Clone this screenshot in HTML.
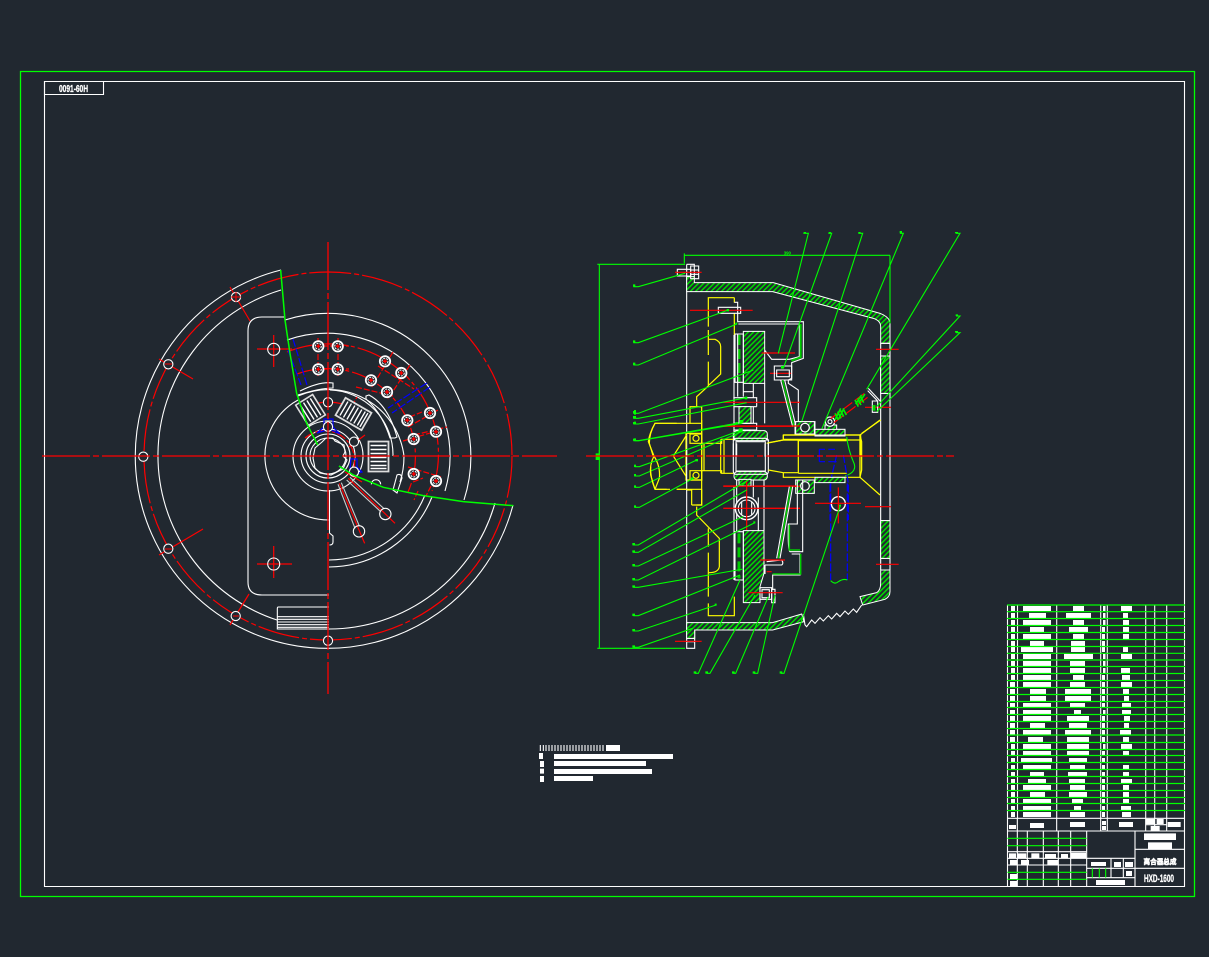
<!DOCTYPE html>
<html><head><meta charset="utf-8"><style>
html,body{margin:0;padding:0;background:#212830;width:1209px;height:957px;overflow:hidden}
svg{display:block}
svg *{vector-effect:non-scaling-stroke}
.w{fill:none;stroke:#fff;stroke-width:1.1}
.y{fill:none;stroke:#ff0;stroke-width:1.2}
.g{fill:none;stroke:#0f0;stroke-width:1.1}
.r{fill:none;stroke:#f00;stroke-width:1.2}
.rd{fill:none;stroke:#f00;stroke-width:1.2;stroke-dasharray:26 3 4 3}
.rc{fill:none;stroke:#f00;stroke-width:1.3;stroke-dasharray:48 3 6 3}
.b{fill:none;stroke:#00f;stroke-width:1.2}
.bd{fill:none;stroke:#00f;stroke-width:1.2;stroke-dasharray:8 2}
.h{fill:url(#hatch);stroke:#fff;stroke-width:1}
.f{fill:#fff;stroke:none}
.gf{fill:#0f0;stroke:none}
text{font-family:"Liberation Sans","Noto Sans CJK SC",sans-serif;fill:#fff}
</style></head><body>
<svg width="1209" height="957" viewBox="0 0 1209 957" xmlns="http://www.w3.org/2000/svg">
<defs>
<pattern id="hatch" patternUnits="userSpaceOnUse" width="11" height="11" patternTransform="rotate(-45)"><rect width="11" height="11" fill="#212830"/><rect width="11" height="4.500" fill="#0d0"/></pattern>
<g id="hole"><circle r="5.2" fill="#212830" stroke="#fff" stroke-width="1.8"/><circle r="3" fill="none" stroke="#fff" stroke-dasharray="2 1"/><path d="M-2 0H2M0-2V2" stroke="#f00" stroke-width="1.5"/></g>
<g id="ring"><circle r="4.6" fill="#212830" stroke="#fff" stroke-width="1.1"/></g>
</defs>
<rect x="20.5" y="71.5" width="1174" height="825" fill="none" stroke="#0f0" stroke-width="1.3"/>
<rect x="44.5" y="81.5" width="1140" height="805" class="w"/>
<rect x="44.5" y="81.5" width="59" height="13" class="w"/>
<text x="73.500" y="92" font-size="10" font-weight="bold" text-anchor="middle" stroke="#fff" stroke-width=".3" textLength="29" lengthAdjust="spacingAndGlyphs">0091-60H</text>

<!-- LEFT VIEW -->
<path class="w" d="M281 270A192 192 0 1 0 513 505"/>
<path class="w" d="M281 290A173 173 0 0 0 277 620"/>
<path class="w" d="M329 629A173 173 0 0 0 495 503"/>
<circle class="rd" cx="328" cy="456" r="184" style="stroke-dasharray:42 3 5 3"/>
<path class="w" d="M284 317H262Q248 317 248 331V582Q248 595 262 595H329"/>
<path class="w" d="M285 320A143 143 0 0 1 464 500"/>
<path class="w" d="M287 340A123 123 0 0 1 445 491"/>
<path class="w" d="M432 497A112 112 0 0 1 329 567M425 495A104.500 104.500 0 0 1 329 560"/>
<path class="w" d="M298 396A76 76 0 0 1 404 456Q404 470 400 482M298 400A64 64 0 0 0 329 520"/>
<path class="w" d="M300 391Q320 381 333 383L333 388Q320 388 298 395"/>
<path class="w" d="M330 390A65 65 0 0 1 393 456"/>
<path class="w" d="M366 396L369 395Q388 405 397 437L395 438L390 438Q382 413 366 399Z"/>
<path class="w" d="M393 490L397 475Q401 473 402 478L397 493Z"/>
<path class="w" d="M329.500 490V533L333 536V542Q333 545 329.500 545"/>
<circle class="w" cx="328" cy="456" r="35"/><circle class="w" cx="328" cy="456" r="27"/><circle class="w" cx="328" cy="456" r="22"/><circle class="w" cx="328" cy="456" r="18"/>
<path class="w" d="M315 448L322 442L326 438H333L335 441L344 445L345 452L343 456L347 460L343 469L337 472L331 475L320 473L315 468L313 458Z"/>
<!-- red arcs -->
<path class="rd" d="M287 352A110 110 0 0 1 432 491"/>
<path class="rd" d="M297 374A88 88 0 0 1 408 492" style="stroke-dasharray:18 3 4 3"/>
<path class="rd" d="M311 405A54 54 0 0 1 346 405" style="stroke-dasharray:12 2 3 2"/>
<path class="rd" d="M305 438A30 30 0 0 1 351 475" style="stroke-dasharray:10 2 3 2"/>
<path class="r" d="M318 338V377M338 338V377M322 346H349M322 369H349M393 352L372 387M410 365L388 399M378 366L414 389M356 387L393 396M408 427L438 410M414 435L447 427M402 420L422 412M403 441L437 431M408 467L441 477M413 482L423 478M418 491L414 500M431 486L426 496M352 406L357 397" style="stroke-dasharray:6 2"/>
<path class="r" d="M230 287L250 321M159 359L193 379M159 555L203 529M230 625L249 594"/>
<path class="r" d="M257 349H292M273.700 335V367M257 564H292M273.700 546V578"/>
<circle class="w" cx="273.700" cy="349.300" r="6"/><circle class="w" cx="273.700" cy="564" r="6"/>
<path class="r" d="M349 447L365 435M345 472L362 482"/>
<!-- blue -->
<path class="bd" d="M293 339L307 385M288 350L301 385M427 383L388 408M430 387L392 413"/>
<path class="b" d="M324 419V427L317 433L327 430H331L340 434L333 427V419Z"/>
<path class="b" d="M351 459H357V467L362 472L355 474L350 468Z"/>
<!-- spring windows -->
<g transform="translate(310.500 410) rotate(-32)"><rect x="-10" y="-12" width="20" height="24" fill="#212830" stroke="#ddd" stroke-width="1.6"/><path stroke="#fff" stroke-width="1.4" d="M-6 -10V10M-2 -10V10M2 -10V10M6 -10V10"/></g>
<g transform="translate(353.500 414) rotate(30)"><rect x="-15" y="-10" width="30" height="20" fill="#212830" stroke="#ddd" stroke-width="1.8"/><path stroke="#fff" stroke-width="1.4" d="M-11 -8V8M-7 -8V8M-3 -8V8M1 -8V8M5 -8V8M9 -8V8M12 -8V8"/></g>
<g transform="translate(378.500 456.500)"><rect x="-10" y="-15" width="20" height="30" fill="#212830" stroke="#ddd" stroke-width="1.8"/><path stroke="#fff" stroke-width="1.4" d="M-8 -11H8M-8 -7H8M-8 -3H8M-8 1H8M-8 5H8M-8 9H8M-8 12H8"/></g>
<!-- holes -->
<use href="#hole" x="318.300" y="346.300"/><use href="#hole" x="337.700" y="346.300"/><use href="#hole" x="318.300" y="369.300"/><use href="#hole" x="337.700" y="369.300"/>
<use href="#hole" x="385" y="361.300"/><use href="#hole" x="401.300" y="373"/><use href="#hole" x="371" y="380.300"/><use href="#hole" x="387" y="392"/>
<use href="#hole" x="430" y="413"/><use href="#hole" x="436" y="431.700"/><use href="#hole" x="407.300" y="420.300"/><use href="#hole" x="413.700" y="439"/>
<use href="#hole" x="413.700" y="474"/><use href="#hole" x="436" y="481"/>
<use href="#ring" x="236" y="297"/><use href="#ring" x="168.300" y="364.300"/><use href="#ring" x="143.300" y="456.700"/><use href="#ring" x="168.300" y="548.700"/><use href="#ring" x="235.700" y="616"/><use href="#ring" x="328" y="640.700"/>
<use href="#ring" x="328" y="402.300"/><use href="#ring" x="328" y="426.700"/><use href="#ring" x="354" y="441.700"/><use href="#ring" x="354" y="471.700"/>
<path class="r" d="M236 292V302M231 297H241M165 364H172M140 456H147M165 549H172M233 616H239" style="stroke-width:1"/>
<!-- slots lower -->
<g transform="translate(130 450) scale(.33333)">
<path class="w" style="stroke:#ccc" d="M624 103L675 235M634 98L688 228M650 90L752 185M660 82L762 176"/>
<path class="r" d="M628 100L704 280M655 85L795 220"/>
<circle class="w" cx="687" cy="244" r="17"/><circle class="w" cx="766" cy="192" r="17"/>
<path class="w" d="M597 471H445Q442 471 442 476V537H597M442 500H597M442 508H597M442 516H597M442 524H597M442 532H597"/>
<path class="w" d="M724 103a14 14 0 0 1 28 0"/>
</g>
<!-- green break -->
<g transform="translate(130 240) scale(.33333)"><path class="g" style="stroke-width:1.500" d="M452 90L465 240L480 340L500 460L530 550L563 615"/><path class="g" style="stroke-width:1.500" d="M627 678L670 705L760 742L880 767L1000 785L1150 797"/></g>
<path class="rc" d="M42 456H557"/><path class="rc" d="M328 242V694"/>

<!-- RIGHT VIEW -->
<!-- Upper section z2 -->
<g transform="translate(590 230) scale(.33333)">
<path class="w" d="M290 103V680M290 103H313V140"/>
<path class="h" d="M290 140H313V158H550L870 250Q900 262 900 280V340H872V290Q872 272 850 265L548 185H290Z"/>
<rect class="w" x="262" y="118" width="40" height="20"/><rect class="w" x="302" y="108" width="24" height="38"/><path class="w" d="M302 120H326M302 133H326"/>
<path class="r" d="M255 127H335"/>
<path class="w" d="M872 340V680M900 340V680M872 378H900M872 490H900M872 340H900"/>
<path class="h" d="M872 378H900V490H872Z"/>
<path class="r" d="M858 358H926M825 532H903"/>
<!-- yellow -->
<path class="y" d="M433 203H355V290M355 300V375M355 395V468L320 500V530H335V610M335 622V680"/>
<path class="y" d="M355 328H375Q392 335 392 350V432L357 465"/>
<path class="y" d="M433 203V218M433 250V315"/>
<path class="y" d="M335 530H300V580H240M255 580H195Q178 610 178 640L190 680"/>
<path class="y" d="M815 610L872 570M580 615H810V680M580 630H810M625 630V680M812 615V680M580 615V630L530 640"/>
<!-- bolt -->
<rect class="w" x="385" y="232" width="67" height="18"/>
<path class="w" d="M433 217H443V275H640V385L605 398V445L595 450V460L625 480V575"/>
<path class="w" d="M445 282H628V380L598 388H545L522 358"/>
<path class="r" d="M300 241H488"/>
<path d="M632 282V382L604 392" fill="none" stroke="#0c0" stroke-width="2"/>
<!-- plate -->
<rect class="h" x="460" y="304" width="64" height="156"/>
<rect class="w" x="435" y="312" width="25" height="145"/>
<path d="M447 315V455" stroke="#0c0" stroke-width="3" stroke-dasharray="10 4" fill="none"/>
<path class="w" d="M443 312V500M460 460V500M524 460V580M490 460V485H460M490 485V503H500V530M430 503H500M430 530H500M432 315V615"/>
<rect class="h" x="447" y="530" width="36" height="50"/>
<path class="w" d="M430 580H500V600H430M490 530V580"/>
<path class="h" d="M430 612H445L475 605Q520 605 535 630H430Z"/>
<path class="w" d="M430 640V680M440 640V680M525 640V680M535 640V680"/>
<path class="r" d="M515 369H615M540 430H607M400 517H630M400 589H610"/>
<!-- rivet -->
<rect class="w" x="553" y="408" width="52" height="42"/><rect class="w" x="560" y="420" width="38" height="20"/>
<path class="w" d="M572 450L608 590M584 450L618 590"/>
<path d="M578 450L612 590" stroke="#0c0" stroke-width="1.500" fill="none"/>
<!-- bearing -->
<rect class="h" x="615" y="575" width="60" height="40"/><circle cx="645" cy="593" r="12" fill="#212830" stroke="#fff" stroke-width="1.2"/>
<path class="h" d="M675 598H705V585H740V598H765V618H675Z"/>
<circle cx="720" cy="575" r="14" fill="#212830" stroke="#fff" stroke-width="1.200"/>
<circle cx="720" cy="575" r="6" class="w"/>
<!-- spring -->
<path class="r" d="M722 566L826 488M732 578L838 498" style="stroke-dasharray:12 3"/>
<path d="M735 550L745 570M743 545L753 565M751 540L761 560M759 535L769 555M735 570L752 535M745 568L762 535M795 510L805 530M803 505L813 525M811 498L821 518M797 522L815 495M806 520L825 492" fill="none" stroke="#0e0" stroke-width="1.600"/>
<path class="w" d="M835 475L872 515M833 482L862 512"/>
<rect class="w" x="847" y="513" width="16" height="34"/>
<path d="M852 525V542" stroke="#0d0" stroke-width="3"/>
<!-- leaders -->
<path class="g" d="M130 170H145L285 130M130 338H145L415 240M130 405H145L440 282M130 550H145L490 420M130 565H145L470 503M130 582H145L470 518M130 632H145L440 580"/>
<path class="g" d="M640 10H655L565 370M715 10H725L580 415M805 10H818L635 575M930 10H940L690 610M1098 10H1110L830 478M1098 258H1110L860 530M1098 308H1110L860 545"/>
<path class="gf" d="M641 6h7v4h-7zM716 6h7v4h-7zM805 6h7v4h-7zM929 3h7v7h-7zM1095 6h9v4h-9zM1097 253h7v5h-7zM1095 303h9v5h-9zM129 163h7v7h-7zM129 331h7v7h-7zM129 398h7v7h-7zM129 543h7v7h-7zM129 558h7v7h-7zM129 576h7v6h-7zM129 626h7v6h-7zM17 670h12v20h-12zM410 237h7v7h-7zM436 278h6v6h-6zM464 500h8v8h-8zM437 576h7v7h-7zM573 408h8v8h-8z"/>
<path class="g" d="M22 103H285M28 103V680M283 70V100M283 76H900M900 76V280"/>
<text x="592" y="74" font-size="13" font-weight="bold" text-anchor="middle" style="fill:#0f0">390</text>
</g>

<!-- Center band z9 -->
<g transform="translate(630 400) scale(.33333)">
<path class="y" d="M215 70H180M140 70H75Q58 100 55 125L72 168Q58 195 62 225L75 268H110M140 268H170"/>
<path class="y" d="M72 168Q92 200 88 235L75 268"/>
<path class="y" d="M185 315V270H170M185 315H215V60"/>
<path class="y" d="M170 105L130 168L170 232"/>
<rect class="y" x="168" y="100" width="47" height="140"/>
<rect class="y" x="180" y="102" width="35" height="28"/><rect class="y" x="180" y="212" width="35" height="28"/>
<circle class="y" cx="198" cy="115" r="9"/><circle class="y" cx="198" cy="226" r="9"/>
<path class="y" d="M215 130H275V118H310M215 212H275V220H310M222 130V212M272 118V220M282 118V220"/>
<rect class="h" x="312" y="92" width="100" height="30" rx="10"/>
<rect class="h" x="312" y="215" width="100" height="25" rx="10"/>
<rect class="w" x="310" y="115" width="105" height="108" rx="8"/>
<rect class="w" x="318" y="125" width="88" height="88"/>
<path class="y" d="M415 128L460 120H505M415 210L460 218H505M505 120V220"/>
<path class="y" d="M460 120V105H690V232H460V218M505 122H650M505 220H650M460 118H650"/>
<path class="y" d="M690 105L750 60M690 232L750 285M690 105L695 125V210L690 232"/>
<path class="g" d="M650 110Q655 150 670 185Q685 215 645 228"/>
<path class="b" d="M568 148H585M568 185H585M568 148V185M595 148H615M595 185H620"/>
<path class="bd" d="M640 165L655 250V360M620 165L600 250V360"/>
<rect class="h" x="555" y="88" width="90" height="17"/><rect class="h" x="555" y="232" width="90" height="16"/>
<rect class="h" x="497" y="65" width="56" height="37"/><circle cx="525" cy="83" r="13" fill="#212830" stroke="#fff" stroke-width="1.2"/>
<rect class="h" x="497" y="240" width="56" height="40"/><circle cx="525" cy="258" r="13" fill="#212830" stroke="#fff" stroke-width="1.2"/>
<path class="r" d="M280 78H510M280 258H500M280 325H510"/>
<path class="g" d="M14 122H28L335 70M14 200H28L335 90M14 228H28L335 95M14 262H28L200 180M14 322H28L190 235"/>
<path class="gf" d="M12 30h6v14h-6zM12 48h6v7h-6zM12 65h6v7h-6zM12 115h6v7h-6zM12 194h6v7h-6zM12 222h6v7h-6zM12 256h6v7h-6zM12 316h6v7h-6zM196 177h8v7h-8zM183 232h8v7h-8zM328 60h12v10h-12zM326 85h12v12h-12z"/>
</g>

<!-- Lower section z3 -->
<g transform="translate(590 450) scale(.33333)">
<path class="g" d="M28 0V595"/>
<path class="w" d="M290 0V595H314V540M290 575H314M290 565H314"/>
<path class="h" d="M290 518H548L635 492L642 515L548 540H314V565H290Z"/>
<path class="w" d="M645 525L650 530L665 510L675 520L690 503L700 513L715 497L725 507L740 490L750 500L765 483L775 493L790 477L800 487L815 465M645 525L640 492"/>
<path class="h" d="M810 440L860 428Q872 420 872 400V360H900V425Q900 440 885 448L818 465Z"/>
<path class="w" d="M872 0V360M900 0V360M872 212H900M872 325H900M872 360H900"/>
<path class="h" d="M872 212H900V325H872Z"/>
<path class="r" d="M825 170H903M858 343H926M255 574H335"/>
<path class="y" d="M320 170V195L388 265V350Q385 368 357 368M355 235V290M355 308V440M355 460V497H433V440"/>
<path class="y" d="M320 165H335V118M195 118H240M260 118H335M195 118Q180 80 182 50"/>
<path class="h" d="M460 242H522V370L510 410V458H460Z"/>
<rect class="w" x="435" y="245" width="25" height="145"/>
<path d="M447 250V385" stroke="#0c0" stroke-width="3" stroke-dasharray="10 4" fill="none"/>
<path class="w" d="M432 110V390M440 90V245M490 90V142M522 90V242M505 142V242"/>
<circle cx="470" cy="175" r="34" fill="#212830" stroke="#fff" stroke-width="1.400"/><circle class="w" cx="470" cy="175" r="25"/><path class="w" d="M455 155V195M485 155V195"/>
<path class="h" d="M447 88H483V108H447Z"/>
<path class="r" d="M400 175H630M400 109H630M470 90V240" />
<path class="w" d="M525 345H575Q582 340 575 330L530 335M525 345V372"/>
<path class="r" d="M510 330H585M530 365H545"/>
<path class="w" d="M560 325L598 110M570 325L608 110"/>
<path d="M565 325L603 110" stroke="#0c0" stroke-width="1.500" fill="none"/>
<path class="w" d="M622 90V222H595Q593 300 600 305H638V90M605 312H630V375H548V420"/>
<path d="M598 225V300H630" stroke="#0c0" stroke-width="1.500" fill="none"/>
<path d="M632 312V372H548" stroke="#0c0" stroke-width="1.500" fill="none"/>
<rect class="w" x="510" y="413" width="35" height="35"/><rect class="w" x="516" y="419" width="22" height="24"/>
<rect class="w" x="545" y="418" width="10" height="40"/>
<path class="r" d="M475 428H578"/>
<path class="bd" d="M722 100V390M772 100V390"/>
<circle cx="745" cy="161" r="21" fill="#212830" stroke="#fff" stroke-width="1.400"/>
<path class="r" d="M675 160H813M745 112V220"/>
<path class="g" d="M722 392Q735 405 745 395Q760 385 772 390"/>
<path class="g" d="M130 285H145L475 90M130 307H145L470 120M130 348H145L460 200M130 390H145L495 218M130 412H145L460 357M130 497H145L450 375M130 543H145L378 465M130 592H145L308 535"/>
<path class="g" d="M315 670H325L450 390M350 670H360L495 435M430 670H437L535 440M492 670H503L555 435M573 670H582L750 170"/>
<path class="gf" d="M127 279h8v7h-8zM127 301h8v7h-8zM127 342h8v7h-8zM127 384h8v7h-8zM127 406h8v7h-8zM127 491h8v7h-8zM127 537h8v7h-8zM127 586h8v7h-8zM311 664h8v7h-8zM346 664h8v7h-8zM426 664h8v7h-8zM488 664h8v7h-8zM569 664h8v7h-8zM374 461h6v6h-6zM490 214h6v6h-6zM747 164h6v6h-6z"/>
<path class="g" d="M22 595H285"/>
</g>
<path class="rc" d="M586 456H954"/>

<!-- Note block -->
<g transform="translate(530 735) scale(.33333)">
<path stroke="#fff" stroke-width="1.100" d="M31 30V48M40 30V48M48 30V48M57 30V48M66 30V48M75 30V48M84 30V48M93 30V48M102 30V48M111 30V48M120 30V48M129 30V48M138 30V48M147 30V48M156 30V48M165 30V48M174 30V48M183 30V48M192 30V48M201 30V48M210 30V48M219 30V48"/>
<path class="f" d="M228 30h42v18h-42zM27 54h12v18h-12zM72 57h357v15h-357zM30 78h12v18h-12zM72 78h276v15h-276zM30 101h12v15h-12zM72 102h294v15h-294zM30 123h12v18h-12zM72 123h117v15h-117z"/>
</g>

<!-- Parts table -->
<g>
<path class="w" d="M1007.500 605V886M1017.500 605V818M1056.700 605V818M1100.700 605V818M1107.300 605V818M1145.700 605V818M1154.700 605V818M1166.700 605V818"/>
<path class="f" d="M1011 606h4v5h-4zM1011 613h4v5h-4zM1011 620h4v5h-4zM1011 627h4v5h-4zM1011 634h4v5h-4zM1011 641h4v5h-4zM1011 647h4v5h-4zM1011 654h4v5h-4zM1011 661h4v5h-4zM1011 668h4v5h-4zM1011 675h4v5h-4zM1010 682h5v5h-5zM1010 689h5v5h-5zM1010 696h5v5h-5zM1010 703h5v5h-5zM1010 710h5v5h-5zM1010 716h5v5h-5zM1010 723h5v5h-5zM1010 730h5v5h-5zM1010 737h5v5h-5zM1011 744h4v5h-4zM1011 751h4v5h-4zM1011 758h4v5h-4zM1011 765h4v5h-4zM1011 772h4v5h-4zM1011 779h4v5h-4zM1011 785h4v5h-4zM1011 792h4v5h-4zM1011 799h4v5h-4zM1011 806h4v5h-4zM1011 812h4v5h-4z"/>
<path class="f" d="M1103 606h2.500v5h-2.500zM1103 613h2.500v5h-2.500zM1103 620h2.500v5h-2.500zM1102 627h3v5h-3zM1102 634h3v5h-3zM1102 641h3v5h-3zM1102 647h3v5h-3zM1103 654h2.500v5h-2.500zM1103 661h2.500v5h-2.500zM1103 668h2.500v5h-2.500zM1102 675h3v5h-3zM1102 682h3v5h-3zM1102 689h3v5h-3zM1102 696h3v5h-3zM1102 703h3v5h-3zM1103 710h2.500v5h-2.500zM1102 716h3v5h-3zM1102 723h3v5h-3zM1102 730h3v5h-3zM1102 737h3v5h-3zM1103 744h2.500v5h-2.500zM1102 751h3v5h-3zM1102 758h3v5h-3zM1102 765h3v5h-3zM1102 772h3v5h-3zM1102 779h3v5h-3zM1102 785h3v5h-3zM1102 792h3v5h-3zM1102 799h3v5h-3zM1102 806h3v5h-3zM1102 812h3v5h-3z"/>
<path class="f" d="M1023 606h28v5h-28zM1029 613h17v5h-17zM1023 620h28v5h-28zM1030 627h14v5h-14zM1023 634h28v5h-28zM1030 641h14v5h-14zM1021 647h32v5h-32zM1023 654h28v5h-28zM1023 661h28v5h-28zM1023 668h28v5h-28zM1023 675h28v5h-28zM1023 682h28v5h-28zM1030 689h16v5h-16zM1030 696h16v5h-16zM1023 703h28v5h-28zM1023 710h28v5h-28zM1023 716h28v5h-28zM1030 723h15v5h-15zM1023 730h28v5h-28zM1028 737h15v5h-15zM1023 744h28v5h-28zM1023 751h28v5h-28zM1021 758h31v5h-31zM1023 765h28v5h-28zM1030 772h14v5h-14zM1028 779h18v5h-18zM1023 785h28v5h-28zM1030 792h15v5h-15zM1023 799h28v5h-28zM1023 806h28v5h-28zM1023 812h28v5h-28z"/>
<path class="f" d="M1073 606h11v5h-11zM1066 613h25v5h-25zM1073 620h11v5h-11zM1069 627h19v5h-19zM1073 634h11v5h-11zM1071 641h14v5h-14zM1071 647h14v5h-14zM1064 654h29v5h-29zM1070 661h15v5h-15zM1070 668h15v5h-15zM1073 675h11v5h-11zM1070 682h15v5h-15zM1065 689h26v5h-26zM1065 696h26v5h-26zM1070 703h15v5h-15zM1074 710h7v5h-7zM1067 716h22v5h-22zM1069 723h18v5h-18zM1065 730h26v5h-26zM1067 737h22v5h-22zM1067 744h22v5h-22zM1067 751h22v5h-22zM1069 758h18v5h-18zM1070 765h15v5h-15zM1068 772h19v5h-19zM1069 779h16v5h-16zM1070 785h15v5h-15zM1069 792h18v5h-18zM1072 799h11v5h-11zM1074 806h7v5h-7zM1070 812h15v5h-15z"/>
<path class="f" d="M1121 606h11v5h-11zM1123 613h5v5h-5zM1123 620h6v5h-6zM1123 627h6v5h-6zM1123 634h6v5h-6zM1123 647h5v5h-5zM1121 654h11v5h-11zM1121 668h9v5h-9zM1122 675h8v5h-8zM1121 682h11v5h-11zM1123 689h6v5h-6zM1124 696h5v5h-5zM1122 703h9v5h-9zM1122 710h9v5h-9zM1124 716h6v5h-6zM1124 723h5v5h-5zM1120 730h11v5h-11zM1123 737h6v5h-6zM1121 744h11v5h-11zM1123 751h6v5h-6zM1123 765h6v5h-6zM1123 772h6v5h-6zM1121 779h11v5h-11zM1123 785h6v5h-6zM1123 792h6v5h-6zM1123 799h6v5h-6zM1121 806h10v5h-10zM1122 812h9v5h-9z"/>
<path stroke="#0f0" stroke-width="1.200" fill="none" d="M1007 605H1185M1007 611.700H1185M1007 618.500H1185M1007 625.500H1185M1007 632.500H1185M1007 639.500H1185M1007 646.500H1185M1007 653.300H1185M1007 660H1185M1007 666.500H1185M1007 673.500H1185M1007 680.500H1185M1007 687.500H1185M1007 694.500H1185M1007 701.500H1185M1007 707.500H1185M1007 714.500H1185M1007 721.500H1185M1007 728.500H1185M1007 735H1185M1007 742.500H1185M1007 749.500H1185M1007 755.500H1185M1007 762.500H1185M1007 769.500H1185M1007 776.500H1185M1007 783.500H1185M1007 790.500H1185M1007 797.500H1185M1007 803.500H1185M1007 810.500H1185"/>
</g>
<!-- Title block -->
<g transform="translate(1000 750) scale(.33333)">
<path class="w" d="M22 205H553M22 243H553M52 205V243M170 205V243M302 205V243M322 205V243M437 205V243M500 205V243M464 205V243M437 224H500"/>
<path class="w" d="M52 243V408M82 243V408M130 243V408M175 243V408M212 243V408M260 243V408M22 305H260M22 325H260M22 345H260"/>
<path class="w" d="M260 325H405M260 355H405M260 383H405M333 325V383M370 325V383M405 243V408M405 298H553M405 355H553"/>
<path class="g" d="M22 265H260M22 287H260M22 367H260M22 388H260M277 355V383M298 355V383M317 355V383"/>
<path class="f" d="M27 225h21v12h-21zM90 219h42v15h-42zM210 216h45v15h-45zM306 213h12v12h-12zM306 228h12v12h-12zM357 216h42v15h-42zM437 207h27v15h-27zM470 207h21v15h-21zM452 228h27v15h-27zM503 216h39v15h-39zM432 250h96v20h-96zM444 277h72v20h-72zM273 336h45v12h-45zM342 336h21v15h-21zM375 336h24v15h-24zM378 363h18v15h-18zM288 390h87v15h-87zM27 310h21v15h-21zM52 310h27v15h-27zM94 310h24v15h-24zM135 312h33v14h-33zM183 312h21v13h-21zM212 308h46v17h-46zM30 330h21v15h-21zM63 330h24v15h-24zM142 330h33v15h-33zM30 372h21v15h-21zM30 393h21v15h-21z"/>
</g>
<text x="1160" y="864" font-size="7" font-weight="bold" text-anchor="middle" stroke="#fff" stroke-width=".5" textLength="33" lengthAdjust="spacingAndGlyphs">离合器总成</text>
<text x="1159" y="882" font-size="11" font-weight="bold" text-anchor="middle" stroke="#fff" stroke-width=".3" textLength="30" lengthAdjust="spacingAndGlyphs">HXD-1600</text>
</svg>
</body></html>
